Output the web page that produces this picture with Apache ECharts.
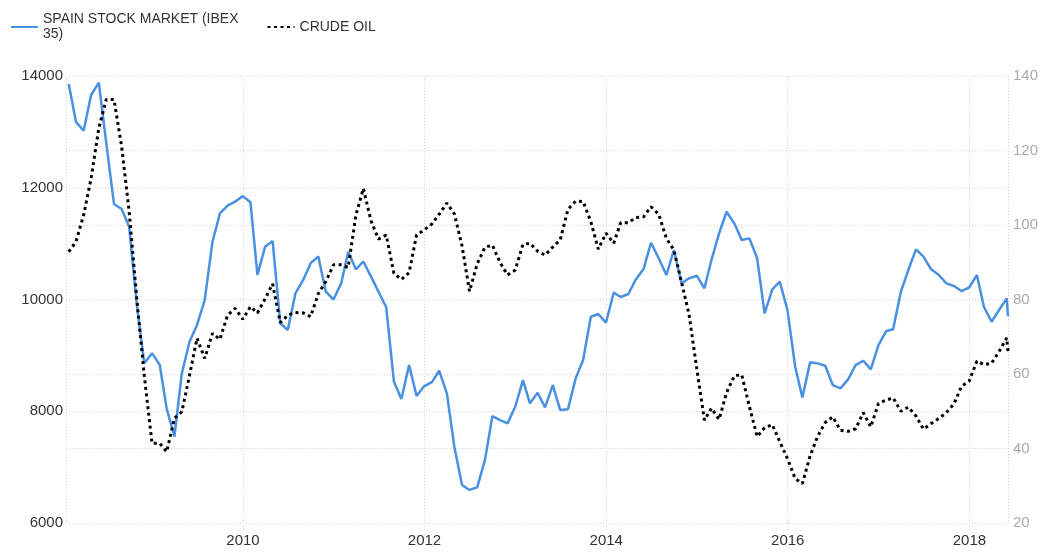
<!DOCTYPE html>
<html>
<head>
<meta charset="utf-8">
<script src="https://cdn.jsdelivr.net/npm/echarts@6/dist/echarts.min.js"></script>
<style>
    html, body { margin: 0; padding: 0; background: #fff; }
    #chart { width: 1042px; height: 552px; }
</style>
</head>
<body>
<div id="chart"></div>
<script>
// monthly readings, Jan 2008 .. May 2018 (month end) + one early-June point
const firstMonth = [2008, 1];
const monthCount = 125;
const lastPartialDate = '2018-06-05';

const ibex = [13857, 13180, 13020, 13660, 13880, 12800, 11710, 11620, 11300, 9900,
    8860, 9040, 8830, 8050, 7545, 8680, 9245, 9545, 9990, 11030,
    11540, 11680, 11750, 11850, 11740, 10440, 10945, 11045, 9575, 9455,
    10110, 10350, 10650, 10770, 10140, 10000, 10290, 10855, 10540, 10680,
    10410, 10140, 9860, 8530, 8220, 8827, 8272, 8450, 8520, 8725,
    8320, 7365, 6680, 6592, 6638, 7126, 7913, 7842, 7783, 8081,
    8558, 8141, 8331, 8069, 8469, 8022, 8034, 8588, 8916, 9691,
    9740, 9584, 10125, 10045, 10098, 10360, 10545, 11016, 10737, 10438,
    10886, 10289, 10379, 10426, 10200, 10706, 11184, 11571, 11363, 11064,
    11094, 10737, 9752, 10182, 10319, 9811, 8796, 8245, 8875, 8857,
    8814, 8469, 8410, 8571, 8827, 8904, 8750, 9185, 9435, 9466,
    10139, 10527, 10898, 10767, 10540, 10438, 10289, 10241, 10152, 10218,
    10438, 9871, 9602, 9811, 10020, 9704];

const crudeOil = [92.8, 95.5, 102.7, 112.5, 126, 133.7, 133.7, 121, 103.6, 80,
    59.5, 41.4, 41.4, 39.1, 48.1, 49.9, 59.7, 69.6, 64.2, 70.9,
    69.3, 75.8, 77.6, 74.7, 78.1, 76.4, 80.2, 84.2, 73.8, 75.8,
    76.5, 76.4, 75.4, 81.6, 84.8, 89.3, 89.3, 88.6, 102.6, 109.8,
    101.1, 96.2, 97.3, 87, 85.4, 87.2, 97.3, 98.7, 100.3, 102.9,
    105.9, 103, 94.4, 82.2, 89.6, 94, 94.6, 89.9, 86.6, 87.9,
    94.8, 95.1, 93, 91.9, 94.1, 96, 104.2, 106.4, 106.3, 100.9,
    93.5, 97.8, 95.1, 100.6, 100.6, 102, 102.2, 104.9, 102.9, 96.4,
    93.3, 84.6, 76, 61.5, 47.6, 50.8, 47.8, 55, 59.5, 59.8,
    51.2, 43.2, 45.6, 46.4, 41.8, 37.3, 31.9, 30.6, 38, 43.2,
    47, 48.5, 44.9, 44.6, 45.3, 49.6, 45.8, 52.1, 53, 53.6,
    50, 51.1, 48.7, 45.2, 46.7, 48.1, 49.6, 52, 56.7, 58.1,
    63.5, 62.5, 62.9, 66, 69.7, 66.1];

const leftTicks = [6000, 14000, 2000];
const rightTicks = [20, 140, 20];

// month-end date strings for the x axis
function pad(n) { return n < 10 ? '0' + n : '' + n; }
const dates = [];
for (let i = 0; i < monthCount; i++) {
    let y = firstMonth[0] + Math.floor((firstMonth[1] - 1 + i) / 12);
    let m = (firstMonth[1] - 1 + i) % 12 + 1;
    let d = new Date(y, m, 0).getDate();
    dates.push(y + '-' + pad(m) + '-' + pad(d));
}
dates.push(lastPartialDate);

const font = 'Liberation Sans, Arial, sans-serif';
const gridLine = { color: '#cfcfcf', type: [1, 2], width: 1 };
const twoYears = 2 * 365 * 24 * 3600 * 1000;

let chart = echarts.init(document.getElementById('chart'));
let option = {
    animation: false,
    textStyle: { fontFamily: font },
    legend: {
        left: 5,
        top: 7,
        itemWidth: 27,
        itemHeight: 12,
        itemGap: 28,
        itemStyle: { opacity: 0 },
        textStyle: { fontSize: 14, color: '#333', lineHeight: 15, fontFamily: font },
        formatter: function (name) {
            return name.replace('(IBEX 35)', '(IBEX\n35)');
        }
    },
    grid: { left: 66, right: 34, top: 76, bottom: 29 },
    xAxis: {
        type: 'time',
        min: '2008-01-20',
        max: lastPartialDate,
        minInterval: twoYears,
        maxInterval: twoYears,
        axisLine: { show: false },
        axisTick: { show: true, length: 7, lineStyle: gridLine },
        splitLine: { show: true, lineStyle: gridLine },
        axisLabel: {
            formatter: '{yyyy}',
            color: '#333',
            fontSize: 15,
            margin: 10,
            fontFamily: font
        }
    },
    yAxis: [
        {
            type: 'value',
            min: leftTicks[0],
            max: leftTicks[1],
            interval: leftTicks[2],
            axisLine: { show: false },
            axisTick: { show: false },
            splitLine: { show: true, lineStyle: gridLine },
            axisLabel: {
                color: '#333', fontSize: 15, margin: 3, fontFamily: font,
                formatter: function (v) { return String(v); }
            }
        },
        {
            type: 'value',
            position: 'right',
            min: rightTicks[0],
            max: rightTicks[1],
            interval: rightTicks[2],
            axisLine: { show: false },
            axisTick: { show: false },
            splitLine: { show: true, lineStyle: gridLine },
            axisLabel: { color: '#aaa', fontSize: 15, margin: 5, fontFamily: font }
        }
    ],
    series: [
        {
            name: 'SPAIN STOCK MARKET (IBEX 35)',
            type: 'line',
            yAxisIndex: 0,
            symbol: 'none',
            data: dates.map((d, i) => [d, ibex[i]]),
            lineStyle: { color: '#4a90e2', width: 2.5 },
            itemStyle: { color: '#4a90e2' }
        },
        {
            name: 'CRUDE OIL',
            type: 'line',
            yAxisIndex: 1,
            symbol: 'none',
            data: dates.map((d, i) => [d, crudeOil[i]]),
            lineStyle: { color: '#000', width: 3, type: [3, 3.5] },
            itemStyle: { color: '#000' }
        }
    ]
};

option && chart.setOption(option);
</script>
</body>
</html>
